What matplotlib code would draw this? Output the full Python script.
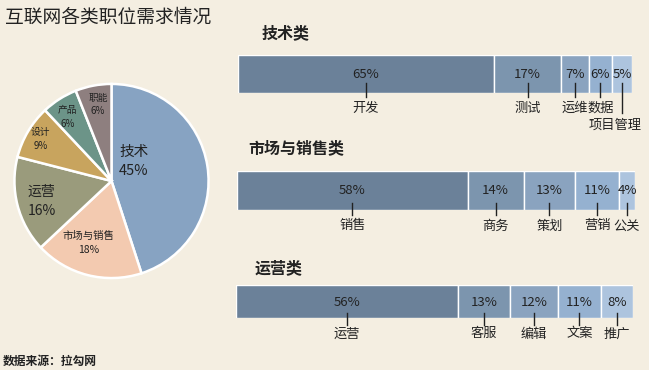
import matplotlib
matplotlib.use("Agg")
import numpy as np
import matplotlib.pyplot as plt
from matplotlib.transforms import blended_transform_factory

plt.rcParams['font.family'] = ['Noto Sans CJK SC', 'DejaVu Sans']

# Data
pie_labels = ['技术', '市场与销售', '运营', '设计', '产品', '职能']
pie_values = [45, 18, 16, 9, 6, 6]

tech_cats = ['开发', '测试', '运维', '数据', '项目管理']
tech_vals = [65, 17, 7, 6, 5]
mkt_cats = ['销售', '商务', '策划', '营销', '公关']
mkt_vals = [58, 14, 13, 11, 4]
ops_cats = ['运营', '客服', '编辑', '文案', '推广']
ops_vals = [56, 13, 12, 11, 8]

# Config
W, H = 649, 370
BG = '#f4eee1'
TXT = '#222222'
pie_colors = ['#87a3c2', '#f3cab0', '#9a9b7c', '#c8a45e', '#6c9488', '#8e7f7f']
bar_colors = ['#6b8199', '#7c95ae', '#8aa3bf', '#95b1d0', '#adc4de']


def px_rect(left, top, w, h):
    return [left / W, 1 - (top + h) / H, w / W, h / H]


fig = plt.figure(figsize=(W / 100, H / 100), dpi=100, facecolor=BG)

fig.text(5 / W, 1 - 17 / H, '互联网各类职位需求情况', fontsize=13.5, color=TXT,
         ha='left', va='center')
fig.text(3 / W, 1 - 361 / H, '数据来源：拉勾网', fontsize=8.5, fontweight='bold',
         color=TXT, ha='left', va='center')

# Pie
ax = fig.add_axes(px_rect(12.5, 82, 198, 198))
ax.pie(pie_values, colors=pie_colors, startangle=90, counterclock=False,
       wedgeprops=dict(edgecolor='white', linewidth=1.8))
ax.set_xlim(-1.02, 1.02)
ax.set_ylim(-1.02, 1.02)
ax.set_aspect('equal')
ax.axis('off')

# label positions (pie units) and font sizes
pie_text_pos = [(0.23, 0.20), (-0.24, -0.64), (-0.72, -0.21),
                (-0.73, 0.43), (-0.45, 0.66), (-0.14, 0.79)]
pie_text_size = [10.5, 7.5, 10, 7, 7, 7]
for name, val, (tx, ty), fs in zip(pie_labels, pie_values, pie_text_pos, pie_text_size):
    ax.text(tx, ty, f'{name}\n{val}%', ha='center', va='center', fontsize=fs,
            color=TXT, linespacing=1.45)


def draw_group(rect, title, title_xy, cats, vals, pct_y, line_y, label_y, special=None):
    bx = fig.add_axes(px_rect(*rect))
    left = np.concatenate([[0], np.cumsum(vals)[:-1]])
    bx.barh(0.5, vals, left=left, height=1, color=bar_colors,
            edgecolor='white', linewidth=1)
    bx.set_xlim(0, sum(vals))
    bx.set_ylim(0, 1)
    bx.axis('off')

    fig.text(title_xy[0] / W, 1 - title_xy[1] / H, title, fontsize=11.5,
             fontweight='bold', color=TXT, ha='left', va='center')

    trans = blended_transform_factory(bx.transData, fig.transFigure)
    centers = left + np.array(vals) / 2
    for i, (c, v, cat) in enumerate(zip(centers, vals, cats)):
        ly1, lyy, dx = line_y[1], label_y, 0
        if special and i in special:
            ly1, lyy, dx = special[i]
        bx.text(c, 1 - pct_y / H, f'{v}%', transform=trans, ha='center',
                va='center', fontsize=9.5, color=TXT)
        bx.plot([c, c], [1 - line_y[0] / H, 1 - ly1 / H], transform=trans,
                color=TXT, lw=1, clip_on=False)
        bx.annotate(cat, xy=(c, 1 - lyy / H), xycoords=trans, xytext=(dx, 0),
                    textcoords='offset pixels', ha='center', va='center',
                    fontsize=9.5, color=TXT, annotation_clip=False)


draw_group((238, 55, 394, 38), '技术类', (262, 33), tech_cats, tech_vals,
           75, (83, 97), 108, special={4: (113, 125, -7)})
draw_group((237, 171, 398, 39), '市场与销售类', (248, 148), mkt_cats, mkt_vals,
           191, (203, 215), 226)
draw_group((236, 285, 397, 33), '运营类', (255, 268), ops_cats, ops_vals,
           302, (313, 325), 334)

fig.savefig('out.png', dpi=100, facecolor=BG)
